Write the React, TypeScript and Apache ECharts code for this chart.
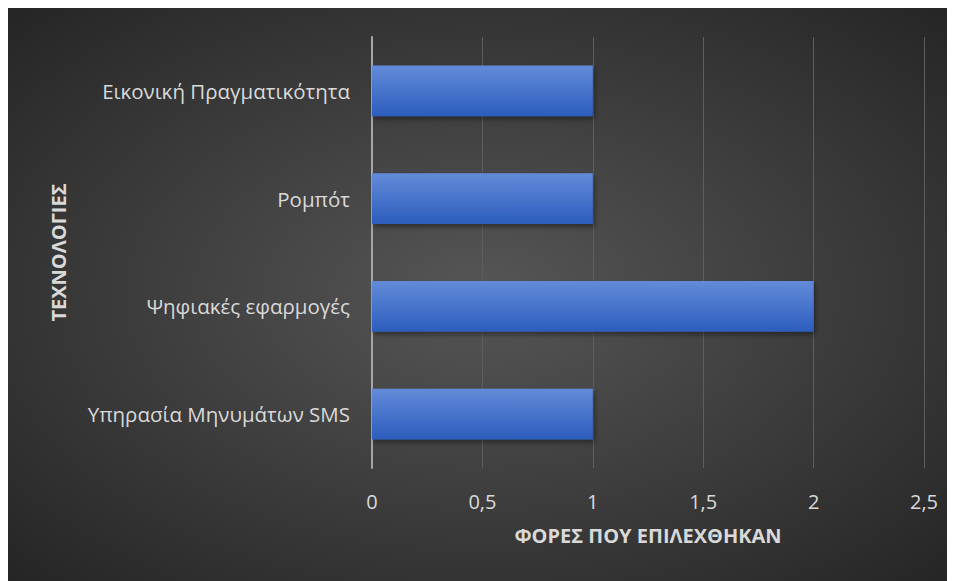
import React, { useEffect, useRef } from "react";
import * as echarts from "echarts";

const categories = [
  "Υπηρασία Μηνυμάτων SMS",
  "Ψηφιακές εφαρμογές",
  "Ρομπότ",
  "Εικονική Πραγματικότητα",
];
const values = [1, 2, 1, 1];
const xAxisName = "ΦΟΡΕΣ ΠΟΥ ΕΠΙΛΕΧΘΗΚΑΝ";
const yAxisName = "ΤΕΧΝΟΛΟΓΙΕΣ";

export default function App() {
  const ref = useRef<HTMLDivElement>(null);
  useEffect(() => {
    if (!ref.current) return;
    const chart = echarts.init(ref.current, undefined, { renderer: "svg" });
    const font = "Open Sans";
    chart.setOption({
      animation: false,
      backgroundColor: {
        type: "radial",
        x: 0.5,
        y: 0.5,
        r: 0.75,
        colorStops: [
          { offset: 0, color: "#565656" },
          { offset: 1, color: "#222222" },
        ],
      },
      grid: { left: 364, right: 31, top: 29, bottom: 113, containLabel: false },
      xAxis: {
        type: "value",
        min: 0,
        max: 2.5,
        interval: 0.5,
        name: xAxisName,
        nameLocation: "middle",
        nameGap: 57,
        nameTextStyle: { color: "#d9d9d9", fontSize: 20, fontWeight: "bold", fontFamily: font },
        axisLabel: {
          color: "#d9d9d9",
          fontSize: 20,
          fontFamily: font,
          margin: 23,
          formatter: (v: number) => String(v).replace(".", ","),
        },
        axisLine: { show: false },
        axisTick: { show: false },
        splitLine: { show: true, lineStyle: { color: "#5e5e5e", width: 1 } },
      },
      yAxis: {
        type: "category",
        data: categories,
        name: yAxisName,
        nameLocation: "middle",
        nameGap: 304,
        nameRotate: 90,
        nameTextStyle: { color: "#d9d9d9", fontSize: 20, fontWeight: "bold", fontFamily: font },
        axisLabel: { color: "#d9d9d9", fontSize: 20.5, fontFamily: font, margin: 22 },
        axisLine: { show: true, lineStyle: { color: "#a6a6a6", width: 2 } },
        axisTick: { show: false },
        splitLine: { show: false },
      },
      series: [
        {
          type: "bar",
          data: values,
          barWidth: "47%",
          itemStyle: {
            color: {
              type: "linear",
              x: 0,
              y: 0,
              x2: 0,
              y2: 1,
              colorStops: [
                { offset: 0, color: "#638bd9" },
                { offset: 1, color: "#2c5dbd" },
              ],
            },
            shadowColor: "rgba(0,0,0,0.4)",
            shadowBlur: 5,
            shadowOffsetX: 2,
            shadowOffsetY: 3,
          },
        },
      ],
    });
    return () => chart.dispose();
  }, []);
  return <div ref={ref} style={{ width: 947, height: 573 }} />;
}
